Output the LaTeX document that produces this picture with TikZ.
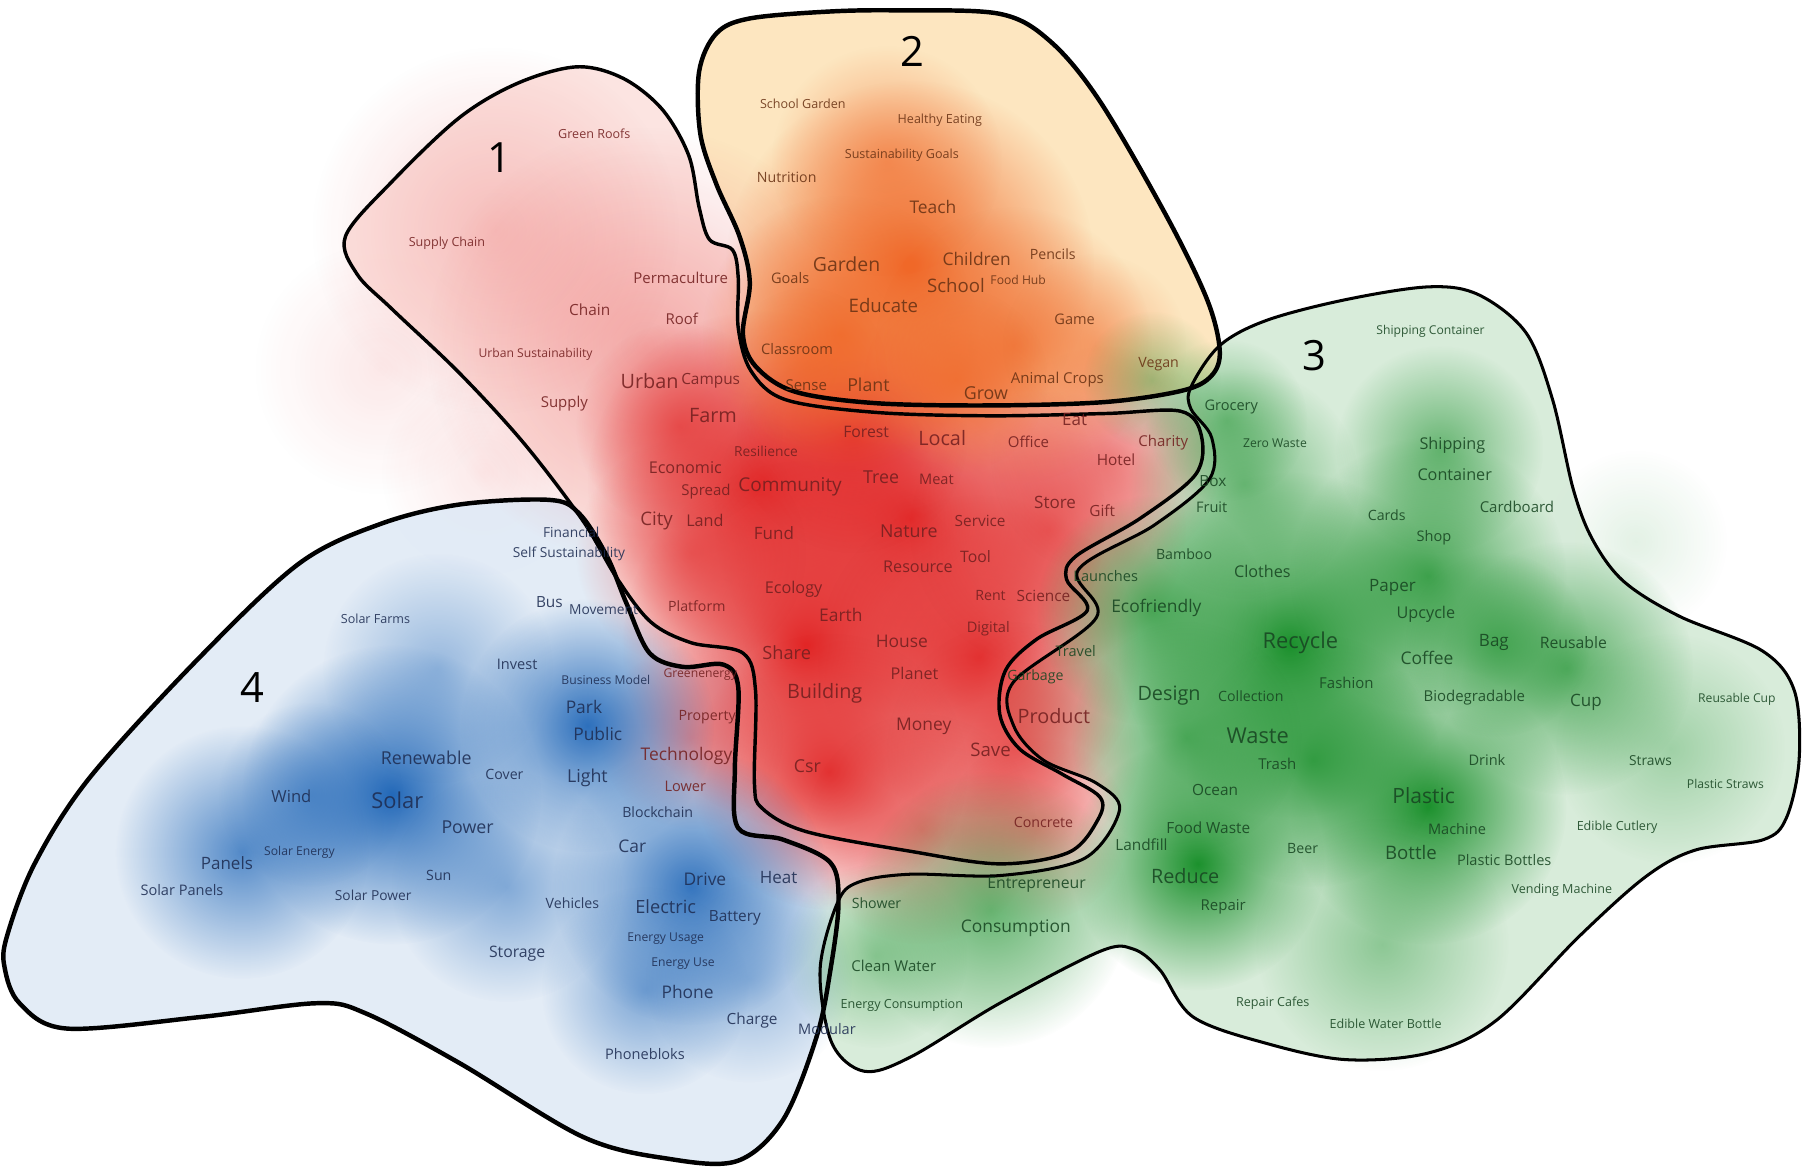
\documentclass[tikz,border=0pt]{standalone}
\usepackage{fontspec}
\setmainfont{Open Sans}
\usetikzlibrary{fadings}

\definecolor{heatred}{RGB}{226,38,38}
\definecolor{heatorange}{RGB}{240,104,40}
\definecolor{heatgreen}{RGB}{28,145,45}
\definecolor{heatblue}{RGB}{35,105,185}
\definecolor{tintred}{RGB}{252,222,218}
\definecolor{tintorange}{RGB}{253,230,192}
\definecolor{tintgreen}{RGB}{212,234,215}
\definecolor{tintblue}{RGB}{224,234,246}
\definecolor{inkred}{RGB}{115,32,32}
\definecolor{inkorange}{RGB}{105,50,20}
\definecolor{inkgreen}{RGB}{24,70,34}
\definecolor{inkblue}{RGB}{30,45,82}

\tikzfading[name=fuzz, inner color=transparent!0, outer color=transparent!100]

\begin{document}
\begin{tikzpicture}[x=0.1mm, y=-0.1mm,
    word/.style={inner sep=0pt, text opacity=0.88},
    clusternum/.style={inner sep=0pt, font=\fontsize{10.3}{11}\selectfont},
    outline/.style={draw=black, line join=round},
    smoothed/.style={smooth cycle, tension=0.55}
]
    \useasboundingbox (0,0) rectangle (1568,1014);
    \fill[white] (0,0) rectangle (1568,1014);

    % Cluster outlines (saved, filled lightly first)
    \path[save path=\lineone] plot[smoothed] coordinates {
        (300,205) (340,158) (399,102) (450,72) (501,58) (541,68) (575,95)
        (598,135) (607,180) (616,208) (636,217) (641,242) (641,285) (652,322)
        (682,347) (760,358) (860,361) (960,359) (1025,357) (1043,378) (1038,412)
        (990,450) (934,483) (926,503) (944,530) (900,555) (873,582) (868,620)
        (885,650) (922,672) (955,692) (953,712) (928,740) (868,750) (790,739)
        (700,722) (662,702) (655,680) (656,600) (645,567) (600,558) (565,540)
        (535,501) (506,452) (455,385) (399,324) (340,268) (310,238)};
    \path[save path=\linetwo] plot[smoothed] coordinates {
        (607,62) (622,29) (651,16) (720,10) (781,9) (868,12) (912,36) (955,88)
        (1013,188) (1048,260) (1059,304) (1052,326) (1027,339) (960,349)
        (860,352) (760,350) (690,340) (656,318) (645,290) (651,245) (642,205)
        (622,160) (608,116)};
    \path[save path=\linethree] plot[smoothed] coordinates {
        (1034,336) (1059,300) (1100,278) (1169,260) (1241,249) (1284,256)
        (1325,289) (1348,347) (1366,425) (1383,469) (1410,505) (1458,535)
        (1530,565) (1558,600) (1562,660) (1551,710) (1531,729) (1472,738)
        (1429,761) (1371,813) (1299,886) (1241,914) (1169,920) (1100,906)
        (1036,883) (1007,842) (984,824) (955,826) (868,871) (790,918) (750,930)
        (722,905) (712,842) (727,784) (745,766) (790,759) (870,760) (942,745)
        (972,703) (952,680) (906,660) (880,630) (880,592) (952,536) (936,495)
        (1002,456) (1050,416) (1052,380) (1034,355)};
    \path[save path=\linefour] plot[smoothed] coordinates {
        (6,813) (30,750) (78,675) (174,570) (260,489) (330,455) (399,438)
        (477,434) (503,446) (527,483) (544,524) (564,567) (593,579) (628,577)
        (641,597) (638,668) (641,719) (680,729) (721,749) (728,784) (721,842)
        (709,900) (680,972) (640,1008) (580,1006) (506,987) (399,923)
        (318,880) (275,871) (174,883) (58,893) (17,871) (4,840)};

    % Faint halos around the clusters
    \foreach \x/\y/\r/\o/\c in {330/320/110/0.1/heatred, 420/410/90/0.1/heatred,
        1420/470/80/0.12/heatgreen}
        \fill[\c, fill opacity=\o, path fading=fuzz] (\x,\y) circle (\r);

    \fill[tintblue, fill opacity=0.9, use path=\linefour];
    \fill[tintred, fill opacity=0.8, use path=\lineone];
    \fill[tintgreen, fill opacity=0.9, use path=\linethree];
    \fill[tintorange, use path=\linetwo];

    % Heat blobs
    \foreach \x/\y/\r/\o in {560/300/190/0.3, 430/200/160/0.2, 660/420/150/0.95,
        790/450/170/0.95, 700/560/160/1, 850/570/140/0.9, 720/670/120/0.9,
        600/480/100/0.5, 910/460/120/0.6, 880/650/110/0.6, 800/720/100/0.5,
        960/400/100/0.45, 900/720/80/0.4, 600/640/80/0.4, 590/370/90/0.6,
        740/380/100/0.8}
        \fill[heatred, fill opacity=\o, path fading=fuzz] (\x,\y) circle (\r);
    \foreach \x/\y/\r/\o in {790/230/160/1, 730/290/120/0.85, 880/300/120/0.75,
        770/140/100/0.55, 950/300/80/0.4, 700/320/70/0.5, 830/330/80/0.7}
        \fill[heatorange, fill opacity=\o, path fading=fuzz] (\x,\y) circle (\r);
    \foreach \x/\y/\r/\o in {1120/560/150/1, 1240/500/120/0.8, 1240/700/120/1,
        1040/750/110/1, 1140/660/110/0.8, 1360/580/110/0.7, 1000/530/100/0.7,
        1080/420/100/0.55, 860/790/120/0.6, 1030/640/100/0.7, 1200/820/110/0.4,
        1450/650/100/0.3, 1000/330/60/0.4, 760/830/80/0.4, 1250/390/90/0.6,
        1300/560/80/0.6, 1065/365/70/0.5}
        \fill[heatgreen, fill opacity=\o, path fading=fuzz] (\x,\y) circle (\r);
    \foreach \x/\y/\r/\o in {340/690/130/1, 510/630/110/0.95, 600/770/120/0.9,
        210/740/110/0.75, 440/770/100/0.5, 560/860/90/0.55, 380/580/100/0.4,
        650/850/90/0.4, 270/690/80/0.5}
        \fill[heatblue, fill opacity=\o, path fading=fuzz] (\x,\y) circle (\r);

    % Outline strokes
    \draw[outline, line width=0.75pt, use path=\linethree];
    \draw[outline, line width=0.85pt, use path=\lineone];
    \draw[outline, line width=1.1pt, use path=\linefour];
    \draw[outline, line width=1.1pt, use path=\linetwo];

    % Cluster numbers
    \node[clusternum] (n1) at (434,137) {1};
    \node[clusternum] (n2) at (792,45) {2};
    \node[clusternum] (n3) at (1141,309) {3};
    \node[clusternum] (n4) at (219,597) {4};

    % Words: cluster 1
    \foreach \x/\y/\f/\t [count=\i] in {516/116/3.1/Green Roofs, 388/211/3.1/Supply Chain,
        591/241/3.7/Permaculture, 512/269/3.8/Chain, 592/277/3.7/Roof,
        465/308/3.0/Urban Sustainability, 564/331/4.9/Urban, 617/331/3.8/Campus,
        490/350/3.7/Supply, 619/361/4.9/Farm, 752/375/3.9/Forest, 818/380/4.9/Local,
        665/392/3.4/Resilience, 893/384/3.7/Office, 933/364/4.2/Eat, 1010/384/3.7/Charity,
        969/399/3.8/Hotel, 595/406/4.0/Economic, 765/414/4.4/Tree, 813/416/3.6/Meat,
        613/427/3.7/Spread, 686/423/4.7/Community, 916/436/4.2/Store, 957/443/3.8/Gift,
        570/452/4.6/City, 612/452/4.0/Land, 672/463/4.2/Fund, 789/461/4.4/Nature,
        851/452/3.8/Service, 797/492/4.0/Resource, 847/483/3.9/Tool, 605/526/3.5/Platform,
        689/512/4.0/Ecology, 730/534/4.3/Earth, 860/517/3.5/Rent, 906/517/3.8/Science,
        858/546/3.6/Digital, 783/557/4.3/House, 683/567/4.5/Share, 794/585/4.0/Planet,
        716/602/4.9/Building, 915/622/4.9/Product, 802/631/4.3/Money, 860/651/4.6/Save,
        701/665/4.4/Csr, 906/714/3.5/Concrete, 614/623/3.5/Property,
        596/656/4.3/Technology, 595/683/3.6/Lower, 608/586/3.0/Greenenergy}
        \node[word, text=inkred, font=\fontsize{\f}{\f}\selectfont] (a\i) at (\x,\y) {\t};

    % Words: cluster 2
    \foreach \x/\y/\f/\t [count=\i] in {697/90/3.1/School Garden, 816/104/3.1/Healthy Eating,
        783/135/3.1/Sustainability Goals, 683/154/3.5/Nutrition, 810/180/4.3/Teach,
        848/225/4.3/Children, 914/221/3.5/Pencils, 735/229/4.8/Garden, 686/241/3.6/Goals,
        830/248/4.6/School, 884/243/3.0/Food Hub, 767/265/4.6/Educate, 933/277/3.6/Game,
        692/303/3.6/Classroom, 1006/316/3.5/Vegan, 700/334/3.7/Sense, 754/334/4.4/Plant,
        918/330/3.7/Animal Crops, 856/341/4.4/Grow}
        \node[word, text=inkorange, font=\fontsize{\f}{\f}\selectfont] (b\i) at (\x,\y) {\t};

    % Words: cluster 3
    \foreach \x/\y/\f/\t [count=\i] in {1242/288/3.0/Shipping Container, 1069/353/3.6/Grocery,
        1107/385/3.0/Zero Waste, 1261/387/4.0/Shipping, 1263/412/4.0/Container,
        1317/440/3.7/Cardboard, 1204/447/3.5/Cards, 1245/467/3.6/Shop, 1028/481/3.5/Bamboo,
        1096/496/4.0/Clothes, 1209/510/4.2/Paper, 1238/533/4.0/Upcycle,
        1004/528/4.3/Ecofriendly, 1129/558/5.4/Recycle, 1297/558/4.2/Bag,
        1366/558/3.9/Reusable, 1239/571/4.3/Coffee, 1169/593/3.7/Fashion,
        1015/604/4.9/Design, 1086/604/3.5/Collection, 1280/606/3.7/Biodegradable,
        1377/610/4.2/Cup, 1508/607/3.0/Reusable Cup, 1092/639/5.4/Waste, 1109/663/3.7/Trash,
        1291/660/3.6/Drink, 1433/660/3.4/Straws, 1498/681/3.0/Plastic Straws,
        1055/686/3.8/Ocean, 1236/691/5.2/Plastic, 1265/720/3.6/Machine,
        1404/718/3.1/Edible Cutlery, 1049/719/3.8/Food Waste, 991/733/3.8/Landfill,
        1131/737/3.5/Beer, 1225/740/4.6/Bottle, 1306/747/3.6/Plastic Bottles,
        1029/761/4.9/Reduce, 900/768/3.9/Entrepreneur, 1356/773/3.1/Vending Machine,
        761/784/3.5/Shower, 1062/787/3.7/Repair, 882/806/4.3/Consumption,
        776/839/3.7/Clean Water, 783/873/3.1/Energy Consumption, 1105/871/3.1/Repair Cafes,
        1203/889/3.1/Edible Water Bottle, 1053/418/3.8/Box, 1052/440/3.6/Fruit,
        960/500/3.6/Launches, 934/565/3.6/Travel, 899/588/3.5/Garbage}
        \node[word, text=inkgreen, font=\fontsize{\f}{\f}\selectfont] (c\i) at (\x,\y) {\t};

    % Words: cluster 4
    \foreach \x/\y/\f/\t [count=\i] in {496/462/3.4/Financial, 494/481/3.4/Self Sustainability,
        477/523/3.8/Bus, 524/529/3.4/Movement, 449/577/3.6/Invest, 526/590/3.0/Business Model,
        326/537/3.1/Solar Farms, 507/614/4.3/Park, 519/637/4.3/Public, 370/658/4.4/Renewable,
        438/672/3.5/Cover, 510/675/4.4/Light, 253/691/4.1/Wind, 345/695/5.4/Solar,
        406/718/4.4/Power, 571/705/3.5/Blockchain, 549/735/4.3/Car, 197/749/4.2/Panels,
        260/740/3.0/Solar Energy, 381/760/3.5/Sun, 158/773/3.6/Solar Panels,
        324/777/3.4/Solar Power, 612/763/4.3/Drive, 676/762/4.2/Heat, 497/784/3.5/Vehicles,
        578/787/4.5/Electric, 638/797/3.8/Battery, 578/815/3.0/Energy Usage,
        593/837/3.0/Energy Use, 449/828/3.9/Storage, 597/861/4.3/Phone, 653/886/3.8/Charge,
        718/893/3.6/Modular, 560/915/3.6/Phonebloks}
        \node[word, text=inkblue, font=\fontsize{\f}{\f}\selectfont] (d\i) at (\x,\y) {\t};
\end{tikzpicture}
\end{document}
